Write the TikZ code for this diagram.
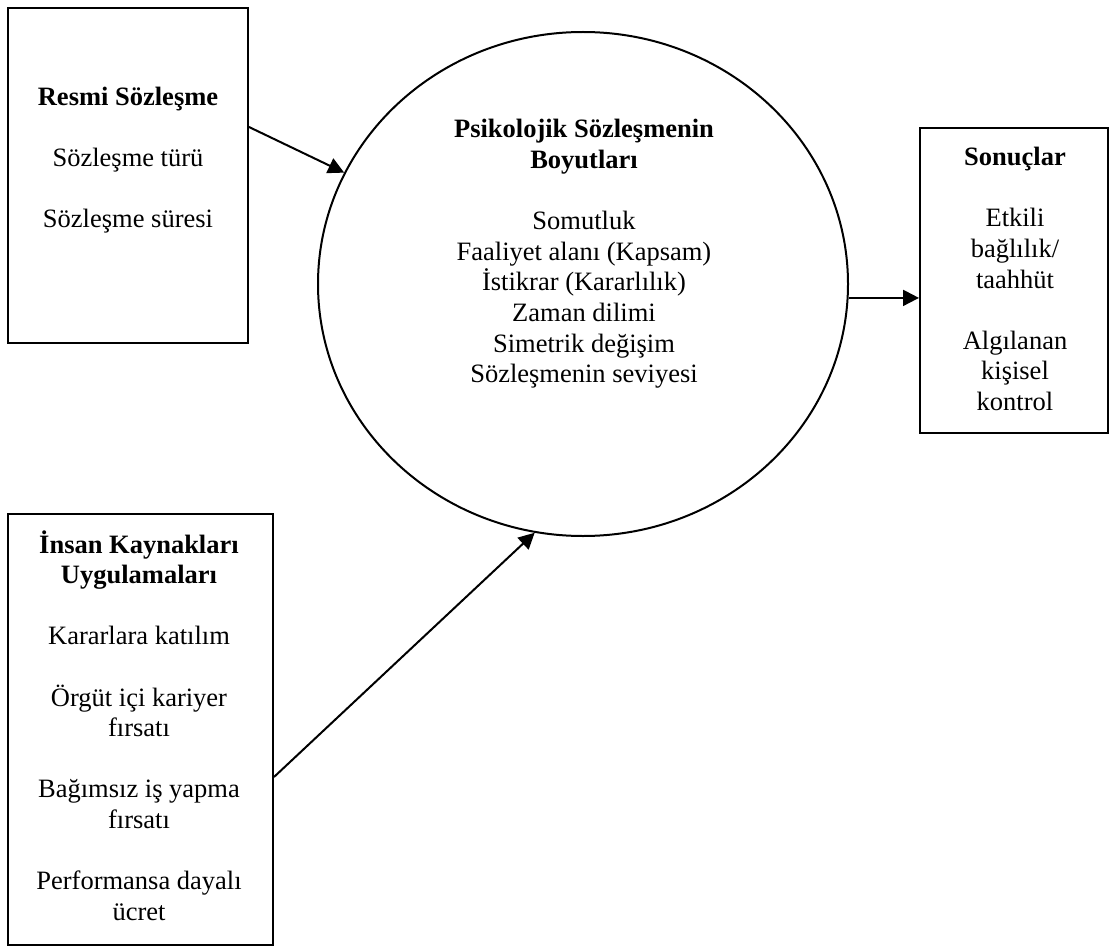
\documentclass[tikz,border=0pt]{standalone}
\usepackage{fontspec}
\setmainfont{Liberation Serif}
\usepackage{tikz}
\usetikzlibrary{arrows.meta,calc,positioning,shapes.geometric}
\tikzset{
  frame/.style={draw,line width=1pt,rectangle,inner sep=0pt},
  oval/.style={draw,line width=1pt,ellipse,inner sep=0pt},
  label text/.style={align=center,inner sep=0pt,font=\fontsize{13.25pt}{15.3pt}\selectfont},
  link/.style={line width=1pt,-{Triangle[length=8pt,width=8pt]}}
}

\begin{document}
\begin{tikzpicture}[x=0.5pt,y=-0.5pt]
\useasboundingbox (0,0) rectangle (1109,947);
\node[frame,minimum width=120pt,minimum height=167.5pt] (resmi) at (128,175.5) {};
\node[frame,minimum width=132.5pt,minimum height=215.5pt] (ik) at (140.5,729.5) {};
\node[frame,minimum width=94pt,minimum height=152.5pt] (sonuc) at (1014,280.5) {};
\node[oval,minimum width=265pt,minimum height=252pt] (boyut) at (583,284) {};
\node[label text] (resmiTxt) at (128,160) {\textbf{Resmi Sözleşme}\\[15.3pt] Sözleşme türü\\[15.3pt] Sözleşme süresi};
\node[label text] (ikTxt) at (139,725.5) {\textbf{İnsan Kaynakları}\\ \textbf{Uygulamaları}\\[15.3pt] Kararlara katılım\\[15.3pt] Örgüt içi kariyer\\ fırsatı\\[15.3pt] Bağımsız iş yapma\\ fırsatı\\[15.3pt] Performansa dayalı\\ ücret};
\node[label text] (sonucTxt) at (1015,279) {\textbf{Sonuçlar}\\[15.3pt] Etkili\\ bağlılık/\\ taahhüt\\[15.3pt] Algılanan\\ kişisel\\ kontrol};
\node[label text] (boyutTxt) at (584,254) {\textbf{Psikolojik Sözleşmenin}\\ \textbf{Boyutları}\\[15.3pt] Somutluk\\ Faaliyet alanı (Kapsam)\\ İstikrar (Kararlılık)\\ Zaman dilimi\\ Simetrik değişim\\ Sözleşmenin seviyesi};
\coordinate (resmiOut) at ($(resmi.north east)+(0,120)$);
\coordinate (ikOut) at ($(ik.north east)+(0,264)$);
\draw[link] (resmiOut) -- (boyut.155.5);
\draw[link] (ikOut) -- (boyut.259.7);
\draw[link] (boyut.-3) -- (boyut.-3 -| sonuc.west);
\end{tikzpicture}
\end{document}
